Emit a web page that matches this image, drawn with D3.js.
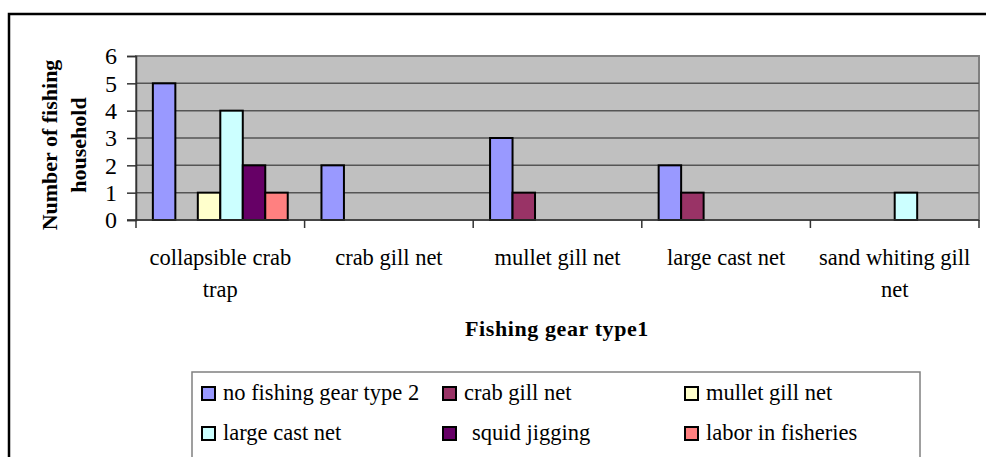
<!DOCTYPE html>
<html>
<head>
<meta charset="utf-8">
<script src="https://cdn.jsdelivr.net/npm/d3@7"></script>
<style>
  body { margin: 0; background: #fff; }
  text { font-family: "Liberation Serif", "Times New Roman", serif; fill: #000; }
</style>
</head>
<body>
<svg id="chart" width="986" height="457"></svg>
<script>
// gear type 1 categories (x axis)
const categories = ["collapsible crab trap", "crab gill net", "mullet gill net", "large cast net", "sand whiting gill net"];
const categoryLines = [["collapsible crab", "trap"], ["crab gill net"], ["mullet gill net"], ["large cast net"], ["sand whiting gill", "net"]];

// gear type 2 series
const seriesNames = ["no fishing gear type 2", "crab gill net", "mullet gill net", "large cast net", "squid jigging", "labor in fisheries"];
const seriesColors = ["#9999FF", "#993366", "#FFFFCC", "#CCFFFF", "#660066", "#FF8080"];

const noGearType2 = [5, 2, 3, 2, 0];
const crabGillNet = [0, 0, 1, 1, 0];
const mulletGillNet = [1, 0, 0, 0, 0];
const largeCastNet = [4, 0, 0, 0, 1];
const squidJigging = [2, 0, 0, 0, 0];
const laborInFisheries = [1, 0, 0, 0, 0];

const seriesValues = [noGearType2, crabGillNet, mulletGillNet, largeCastNet, squidJigging, laborInFisheries];
const yTicks = [0, 1, 2, 3, 4, 5, 6];

const svg = d3.select("#chart");

// outer frame
svg.append("rect")
  .attr("x", 9).attr("y", 14)
  .attr("width", 1000).attr("height", 500)
  .attr("fill", "none").attr("stroke", "#000").attr("stroke-width", 2.5);

const plot = { left: 136, right: 979, top: 56, bottom: 220 };

const x = d3.scaleBand().domain(categories).range([plot.left, plot.right]);
const xInner = d3.scaleBand().domain(seriesNames).range([0, x.bandwidth()]).paddingOuter(0.75);
const y = d3.scaleLinear().domain([0, 6]).range([plot.bottom, plot.top]);

// plot background
svg.append("rect")
  .attr("x", plot.left).attr("y", plot.top)
  .attr("width", plot.right - plot.left).attr("height", plot.bottom - plot.top)
  .attr("fill", "#C0C0C0").attr("stroke", "#808080").attr("stroke-width", 2);

// gridlines
svg.append("g")
  .selectAll("line")
  .data(yTicks.filter(d => d > 0))
  .join("line")
  .attr("x1", plot.left).attr("x2", plot.right)
  .attr("y1", d => y(d)).attr("y2", d => y(d))
  .attr("stroke", d => d === 6 ? "#808080" : "#555").attr("stroke-width", 1.5);

// bars
const groups = svg.append("g")
  .selectAll("g")
  .data(categories)
  .join("g")
  .attr("transform", d => `translate(${x(d)},0)`);

groups.selectAll("rect")
  .data((c, ci) => seriesNames.map((s, si) => ({ s, si, v: seriesValues[si][ci] })).filter(d => d.v > 0))
  .join("rect")
  .attr("x", d => xInner(d.s))
  .attr("width", xInner.bandwidth())
  .attr("y", d => y(d.v))
  .attr("height", d => y(0) - y(d.v))
  .attr("fill", d => seriesColors[d.si])
  .attr("stroke", "#000").attr("stroke-width", 2);

// y axis
const yAxis = svg.append("g")
  .attr("transform", `translate(${plot.left},0)`)
  .call(d3.axisLeft(y).tickValues(yTicks).tickFormat(d3.format("d")).tickSize(9).tickPadding(10));
yAxis.select(".domain").attr("stroke", "#333").attr("stroke-width", 1.5);
yAxis.selectAll(".tick line").attr("stroke", "#333").attr("stroke-width", 1.5);
yAxis.selectAll(".tick text").attr("font-size", 24).attr("font-family", "Liberation Serif").attr("fill", "#000");

// x axis baseline + ticks at category boundaries
svg.append("line")
  .attr("x1", plot.left - 9).attr("x2", plot.right)
  .attr("y1", plot.bottom).attr("y2", plot.bottom)
  .attr("stroke", "#333").attr("stroke-width", 1.5);
svg.append("g")
  .selectAll("line")
  .data(categories.map(c => x(c)).concat([plot.right]))
  .join("line")
  .attr("x1", d => d).attr("x2", d => d)
  .attr("y1", plot.bottom).attr("y2", plot.bottom + 8)
  .attr("stroke", "#333").attr("stroke-width", 1.5);

// category labels
svg.append("g")
  .selectAll("text")
  .data(categories)
  .join("text")
  .attr("text-anchor", "middle")
  .attr("font-size", 22.5)
  .each(function (d, i) {
    d3.select(this).selectAll("tspan")
      .data(categoryLines[i])
      .join("tspan")
      .attr("x", x(d) + x.bandwidth() / 2)
      .attr("y", (t, j) => 265 + j * 32)
      .text(t => t);
  });

// x axis title
svg.append("text")
  .attr("x", 557).attr("y", 336)
  .attr("text-anchor", "middle")
  .attr("font-size", 22).attr("font-weight", "bold")
  .attr("letter-spacing", 0.6)
  .text("Fishing gear type1");

// y axis title
svg.append("text")
  .attr("transform", "translate(57,145) rotate(-90)")
  .attr("text-anchor", "middle")
  .attr("font-size", 22).attr("font-weight", "bold")
  .text("Number of fishing");
svg.append("text")
  .attr("transform", "translate(86,145) rotate(-90)")
  .attr("text-anchor", "middle")
  .attr("font-size", 22).attr("font-weight", "bold")
  .text("household");

// legend
svg.append("rect")
  .attr("x", 192).attr("y", 372)
  .attr("width", 728).attr("height", 90)
  .attr("fill", "#fff").attr("stroke", "#808080").attr("stroke-width", 1.5);

const legendCols = [202, 443, 685];
const legendRows = [387, 427];
const legend = svg.append("g")
  .selectAll("g")
  .data(seriesNames)
  .join("g")
  .attr("transform", (d, i) => `translate(${legendCols[i % 3]},${legendRows[Math.floor(i / 3)]})`);

legend.append("rect")
  .attr("width", 13).attr("height", 13)
  .attr("fill", (d, i) => seriesColors[i])
  .attr("stroke", "#000").attr("stroke-width", 2);

legend.append("text")
  .attr("x", d => d === "squid jigging" ? 29 : 21)
  .attr("y", 13)
  .attr("font-size", 22.5)
  .text(d => d);
</script>
</body>
</html>
